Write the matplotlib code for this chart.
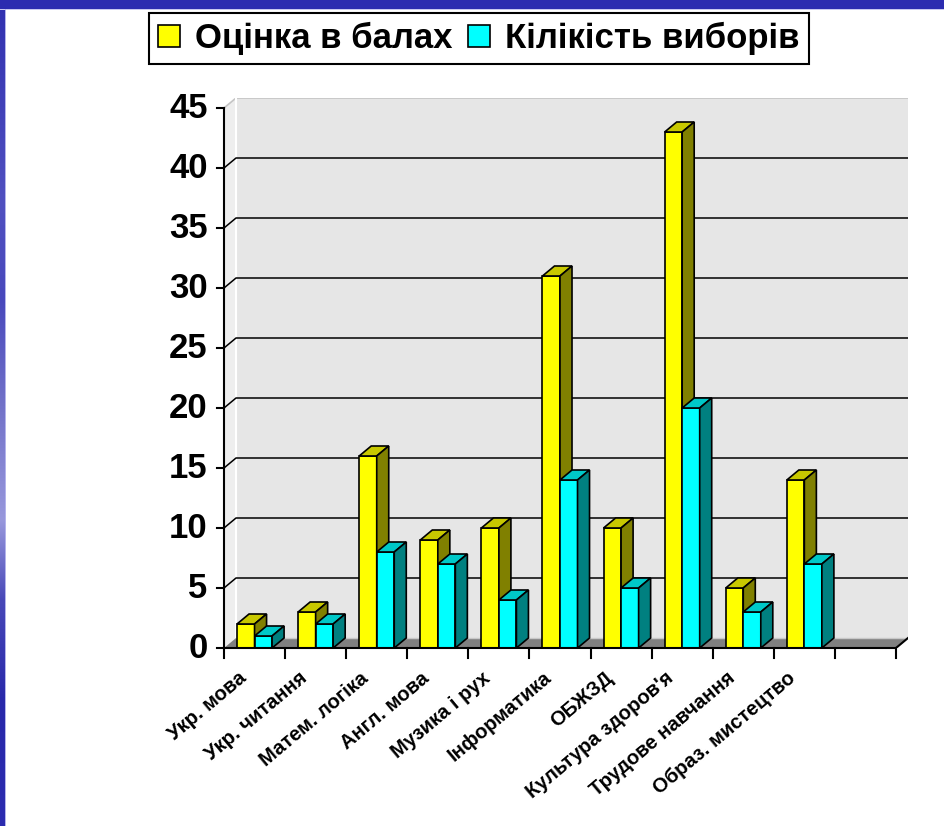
import numpy as np
import matplotlib.pyplot as plt
from matplotlib.patches import Polygon, Rectangle, Patch

categories = ["Укр. мова", "Укр. читання", "Матем. логіка", "Англ. мова", "Музика і рух",
              "Інформатика", "ОБЖЗД", "Культура здоров'я", "Трудове навчання", "Образ. мистецтво"]
scores = [2, 3, 16, 9, 10, 31, 10, 43, 5, 14]
choices = [1, 2, 8, 7, 4, 14, 5, 20, 3, 7]
series_names = ["Оцінка в балах", "Кілікість виборів"]
yticks = list(range(0, 50, 5))

plt.rcParams['font.family'] = ['Liberation Sans', 'DejaVu Sans']
plt.rcParams['font.weight'] = 'bold'

W, H = 945, 826
fig = plt.figure(figsize=(W / 100, H / 100), dpi=100)
fig.patch.set_facecolor('white')

# blue frame of the slide
fig.add_artist(Rectangle((0, 1 - 9 / H), 1, 9 / H, transform=fig.transFigure,
                         facecolor='#2C2CB0', edgecolor='none'))
fig.add_artist(Rectangle((0, 1 - 10 / H), 1, 1 / H, transform=fig.transFigure,
                         facecolor='#C8C8F0', edgecolor='none'))
band = fig.add_axes([0, 0, 5 / W, 1 - 9 / H])
stops = [0, 200, 300, 400, 520, 600, 700, 826]
rs = [48, 80, 72, 112, 152, 72, 40, 44]
gs = [48, 80, 72, 112, 152, 72, 40, 44]
bs = [176, 192, 188, 200, 220, 184, 170, 176]
yy = np.arange(9, H)
grad = np.stack([np.interp(yy, stops, rs), np.interp(yy, stops, gs),
                 np.interp(yy, stops, bs)], axis=1)[:, None, :] / 255
band.imshow(grad, aspect='auto', extent=(0, 1, 0, 1))
band.axis('off')
fig.add_artist(Rectangle((5 / W, 0), 1 / W, 1 - 9 / H, transform=fig.transFigure,
                         facecolor='#B4B4EC', edgecolor='none'))

n_slots = len(categories) + 1
dx, dy = 12 / 61, 10 / 12      # 3D depth in data units
ymax = 45
bw = 17.5 / 61
off = 13 / 61

ax = fig.add_axes([224 / W, 1 - 648 / H, 684 / W, 550 / H])
ax.set_xlim(0, n_slots + dx)
ax.set_ylim(0, ymax + dy)
ax.axis('off')

# walls and floor
ax.add_patch(Polygon([(0, 0), (dx, dy), (dx, ymax + dy), (0, ymax)],
                     facecolor='#EEEEEE', edgecolor='none', zorder=1))
ax.add_patch(Rectangle((dx, dy), n_slots, ymax, facecolor='#E6E6E6',
                       edgecolor='none', zorder=1))
ax.plot([0, dx, n_slots + dx], [ymax, ymax + dy, ymax + dy], color='#C4C4C4', lw=1.2, zorder=2)
ax.plot([dx, dx], [dy, ymax + dy], color='white', lw=1.5, zorder=2)
ax.add_patch(Polygon([(0, 0), (n_slots, 0), (n_slots + dx, dy), (dx, dy)],
                     facecolor='#808080', edgecolor='none', zorder=2))
ax.plot([dx, n_slots + dx], [dy, dy], color='#C8C8C8', lw=1, zorder=2)
ax.plot([n_slots, n_slots + dx], [0, dy], color='black', lw=1.5, zorder=3)

for v in yticks[1:-1]:
    ax.plot([0, dx, n_slots + dx], [v, v + dy, v + dy], color='black', lw=1.1, zorder=2)

# axes lines and ticks
ax.plot([0, 0], [0, ymax], color='black', lw=1.5, zorder=5, clip_on=False)
ax.plot([0, n_slots], [0, 0], color='black', lw=1.5, zorder=5, clip_on=False)
for v in yticks:
    ax.plot([-7 / 61, 0], [v, v], color='black', lw=1.5, clip_on=False, zorder=5)
    ax.text(-0.27, v, str(v), ha='right', va='center', fontsize=25,
            fontweight='bold', clip_on=False)
for i in range(n_slots + 1):
    ax.plot([i, i], [0, -10 / 12], color='black', lw=1.5, clip_on=False, zorder=5)
for i, name in enumerate(categories):
    ax.text(i + 0.32, -2.3, name, rotation=40, rotation_mode='anchor',
            ha='right', va='center', fontsize=14.5, fontweight='bold', clip_on=False)


def bar3d(x0, h, front, top, side):
    ax.add_patch(Rectangle((x0, 0), bw, h, facecolor=front, edgecolor='black',
                           lw=1.2, zorder=4))
    ax.add_patch(Polygon([(x0, h), (x0 + bw, h), (x0 + bw + dx, h + dy), (x0 + dx, h + dy)],
                         facecolor=top, edgecolor='black', lw=1.2, zorder=4))
    ax.add_patch(Polygon([(x0 + bw, 0), (x0 + bw + dx, dy), (x0 + bw + dx, h + dy), (x0 + bw, h)],
                         facecolor=side, edgecolor='black', lw=1.2, zorder=4))


for i in range(len(categories)):
    bar3d(i + off, scores[i], '#FFFF00', '#C8C800', '#808000')
    bar3d(i + off + bw, choices[i], '#00FFFF', '#00C8C8', '#008080')

handles = [Patch(facecolor='#FFFF00', edgecolor='black', lw=1.2),
           Patch(facecolor='#00FFFF', edgecolor='black', lw=1.2)]
leg = fig.legend(handles, series_names, loc='center', bbox_to_anchor=(479 / W, 1 - 38.5 / H),
                 ncol=2, prop=dict(size=25, weight='bold'), frameon=True, fancybox=False,
                 edgecolor='black', framealpha=1, handlelength=0.62, handleheight=0.6,
                 handletextpad=0.45, columnspacing=0.45, borderpad=0.25, borderaxespad=0)
leg.get_frame().set_linewidth(1.5)

fig.savefig('out.png', dpi=100)
